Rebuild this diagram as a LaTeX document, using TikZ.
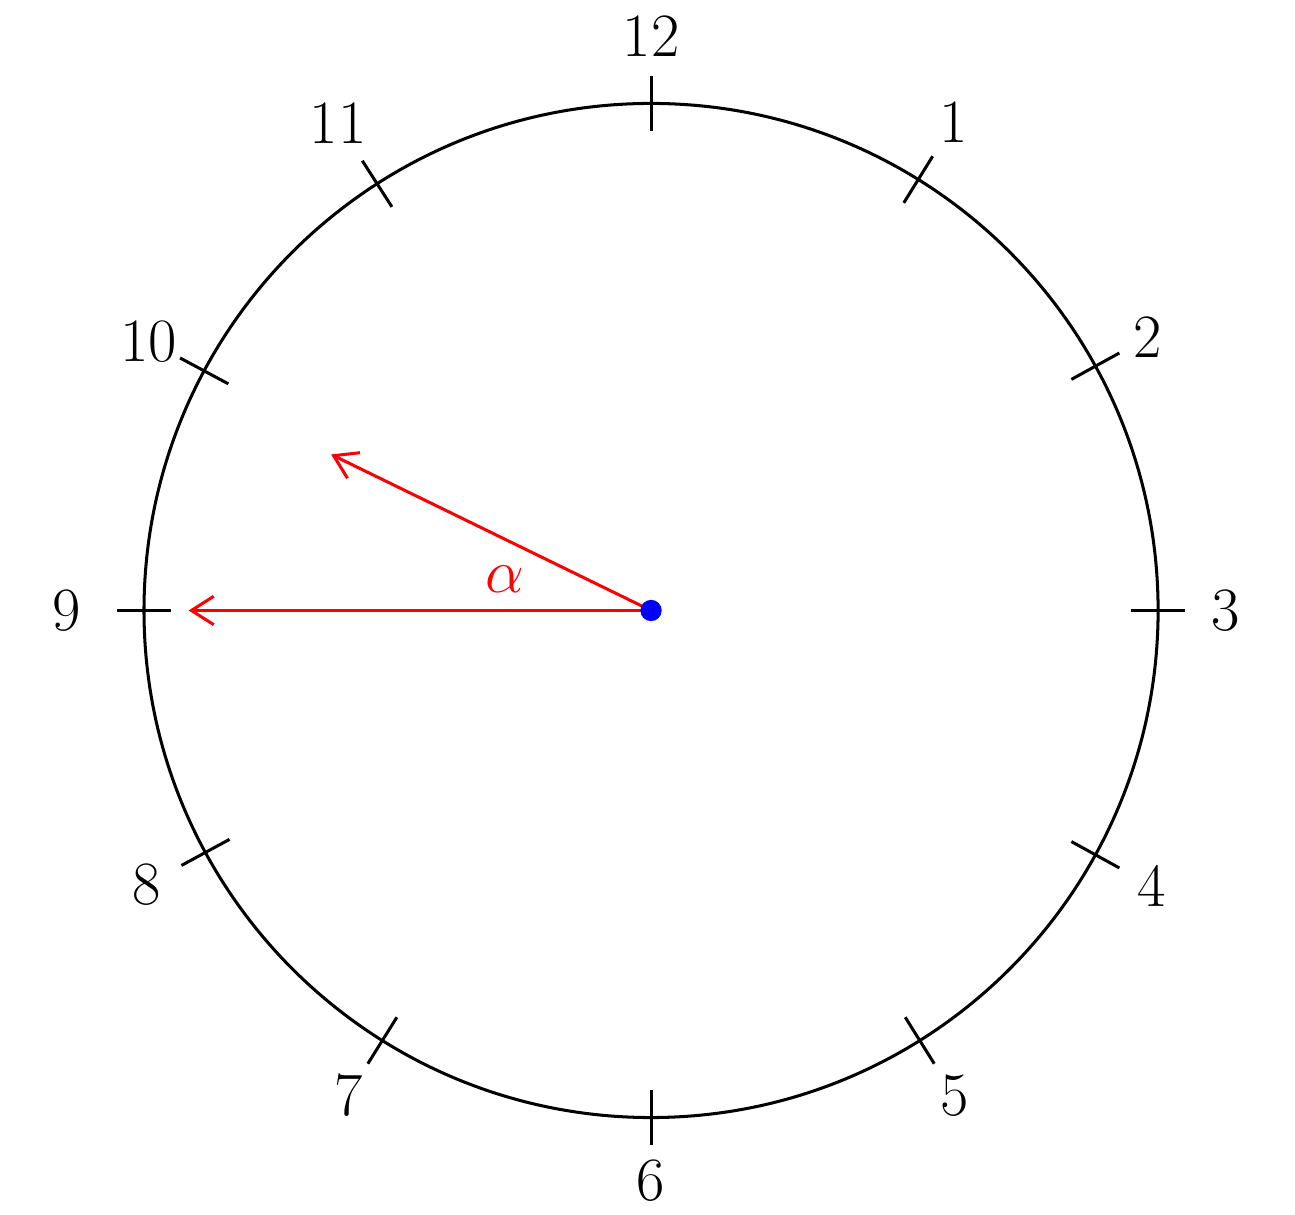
\documentclass[tikz,border=0pt]{standalone}
\usepackage{xcolor}
\usepackage{tikz}
\usepackage{amsmath}
\usepackage{amssymb}
\usetikzlibrary{arrows.meta}

\begin{document}
\begin{tikzpicture}[font=\LARGE]
        \useasboundingbox (-6.42,-5.96) rectangle (6.35,6.02);
        \coordinate (O) at (0,0);
        \draw[-, line width=0.85pt] (O) circle (5);
        \foreach \h/\a/\r in {12/90/5.66, 1/58.2/5.67, 2/28.8/5.59, 3/0/5.67,
                4/-28.8/5.63, 5/-58/5.64, 6/-90/5.62, 7/238/5.63,
                8/208.5/5.66, 9/180/5.76, 10/151.8/5.62, 11/122.7/5.71} {
            \draw[-, line width=0.85pt] (\a:4.73) -- (\a:5.27);
            \node (n\h) at (\a:\r) {\h};
        }
        \coordinate (minute) at (180:4.56);
        \coordinate (hour) at (154:3.51);
        \draw[-{Straight Barb[length=2.2mm,width=2.8mm]}, red, line width=0.85pt] (O) -- (minute);
        \draw[-{Straight Barb[length=2.2mm,width=2.8mm]}, red, line width=0.85pt] (O) -- (hour);
        \node[red] (alpha) at (168:1.47) {$\alpha$};
        \fill[blue] (O) circle (0.105);
    \end{tikzpicture}
\end{document}
